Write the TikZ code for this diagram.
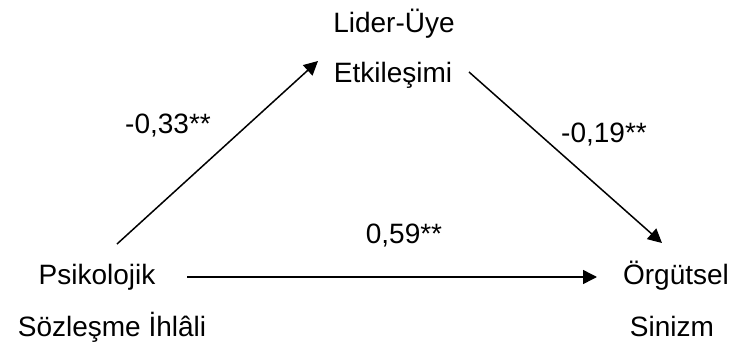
\documentclass[tikz,border=0pt]{standalone}
\usepackage{fontspec}
\setmainfont{Liberation Sans}
\usetikzlibrary{arrows.meta}
\begin{document}
\begin{tikzpicture}[x=1pt,y=-1pt,
  lbl/.style={anchor=base,inner sep=0pt,font=\fontsize{28}{34}\selectfont},
  conn/.style={line width=1.5pt,-{Triangle[length=14pt,width=14pt]}}]
\useasboundingbox (0,0) rectangle (732,343);
\node[lbl] (lu1) at (394,32) {Lider-Üye};
\node[lbl] (lu2) at (393,82) {Etkileşimi};
\node[lbl] (ps1) at (97,284) {Psikolojik};
\node[lbl] (ps2) at (112,336) {Sözleşme İhlâli};
\node[lbl] (os1) at (676,284) {Örgütsel};
\node[lbl] (os2) at (672,336) {Sinizm};
\node[lbl] (c1) at (168,133) {-0,33**};
\node[lbl] (c2) at (604,142) {-0,19**};
\node[lbl] (c3) at (404,243) {0,59**};
\coordinate (psA) at (117,244);
\coordinate (luA) at (318,61);
\coordinate (luB) at (469,72);
\coordinate (osA) at (662,243);
\coordinate (psB) at (187,277);
\coordinate (osB) at (597,277);
\draw[conn] (psA) -- (luA);
\draw[conn] (luB) -- (osA);
\draw[conn] (psB) -- (osB);
\end{tikzpicture}
\end{document}
